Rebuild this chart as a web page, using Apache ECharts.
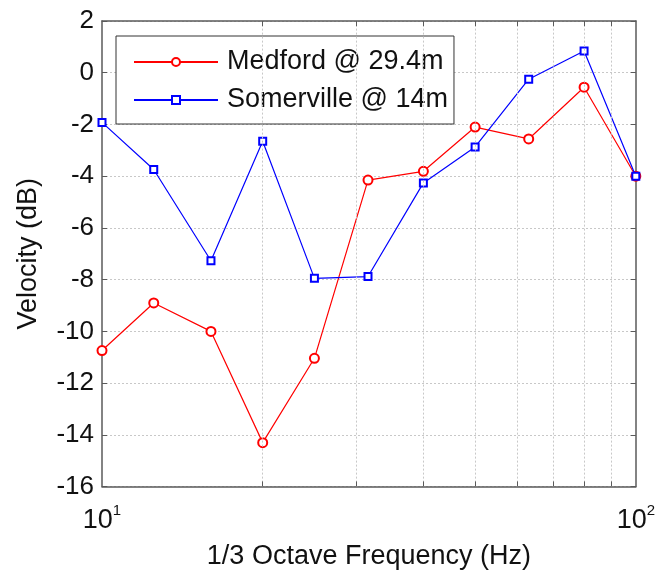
<!DOCTYPE html>
<html>
<head>
<meta charset="utf-8">
<title>Velocity vs 1/3 Octave Frequency</title>
<script src="https://cdn.jsdelivr.net/npm/echarts@6/dist/echarts.min.js"></script>
<style>
  html, body { margin: 0; padding: 0; background: #ffffff; }
  #chart { width: 658px; height: 575px; }
</style>
</head>
<body>
<div id="chart"></div>
<script>
// 1/3 octave band centre frequencies (Hz)
var freqs = [10, 12.5, 16, 20, 25, 31.5, 40, 50, 63, 80, 100];
// Velocity levels (dB) per band
var medford = [-10.74, -8.9, -10.0, -14.3, -11.04, -4.15, -3.81, -2.1, -2.56, -0.56, -4.0];
var somerville = [-1.92, -3.74, -7.27, -2.65, -7.95, -7.88, -4.26, -2.87, -0.25, 0.84, -4.0];
// Decade subdivisions used for the vertical grid and minor ticks
var minorFreqs = [20, 30, 40, 50, 60, 70, 80, 90];
var yMin = -16, yMax = 2, yStep = 2;

var seriesNames = ['Medford @ 29.4m', 'Somerville @ 14m'];

var FONT = 'Liberation Sans, Arial, Helvetica, sans-serif';
var TEXT = '#111111';
var BOX = '#5a5a5a';
var GRID = '#c8c8c8';

function pairs(xs, ys) {
  return xs.map(function (x, i) { return [x, ys[i]]; });
}

// dotted vertical grid lines plus short inward ticks on bottom and top edges
var gridLines = minorFreqs.map(function (f) { return { xAxis: f }; });
var tickLen = 0.2;
var minorTicks = [];
minorFreqs.forEach(function (f) {
  minorTicks.push([{ coord: [f, yMin] }, { coord: [f, yMin + tickLen] }]);
  minorTicks.push([{ coord: [f, yMax] }, { coord: [f, yMax - tickLen] }]);
});

var chart = echarts.init(document.getElementById('chart'), null, { renderer: 'canvas' });

var option = {
  animation: false,
  backgroundColor: '#ffffff',
  textStyle: { fontFamily: FONT, color: TEXT },
  grid: { left: 102, right: 21, top: 21, bottom: 87, containLabel: false },
  legend: {
    orient: 'vertical',
    left: 116,
    top: 36,
    data: seriesNames,
    backgroundColor: '#ffffff',
    borderColor: '#333333',
    borderWidth: 1,
    borderRadius: 0,
    padding: [11, 6, 9, 17],
    itemWidth: 84,
    itemHeight: 10,
    itemGap: 8,
    textStyle: { fontFamily: FONT, fontSize: 27, color: TEXT, lineHeight: 30, padding: [0, 0, 0, 4] }
  },
  xAxis: [{
    type: 'log',
    logBase: 10,
    min: 10,
    max: 100,
    position: 'bottom',
    axisLine: { show: true, onZero: false, lineStyle: { color: BOX, width: 1.5 } },
    axisTick: { show: false },
    splitLine: { show: false },
    axisLabel: {
      margin: 19,
      formatter: function (v) {
        return '{b|10}{s|' + Math.round(Math.log10(v)) + '}';
      },
      rich: {
        b: { fontFamily: FONT, fontSize: 27, color: TEXT, lineHeight: 30 },
        s: { fontFamily: FONT, fontSize: 15, color: TEXT, lineHeight: 30, padding: [0, 0, 20, 0] }
      }
    },
    name: '1/3 Octave Frequency (Hz)',
    nameLocation: 'middle',
    nameGap: 55,
    nameTextStyle: { fontFamily: FONT, fontSize: 27, color: TEXT }
  }, {
    type: 'log',
    logBase: 10,
    min: 10,
    max: 100,
    position: 'top',
    axisLine: { show: true, onZero: false, lineStyle: { color: BOX, width: 1.5 } },
    axisTick: { show: false },
    axisLabel: { show: false },
    splitLine: { show: false }
  }],
  yAxis: [{
    type: 'value',
    min: yMin,
    max: yMax,
    interval: yStep,
    position: 'left',
    axisLine: { show: true, onZero: false, lineStyle: { color: BOX, width: 1.5 } },
    axisTick: { show: true, inside: true, length: 5, lineStyle: { color: BOX, width: 1 } },
    axisLabel: { margin: 8, fontFamily: FONT, fontSize: 26, color: TEXT },
    splitLine: { show: true, lineStyle: { color: GRID, width: 1, type: [2, 2] } },
    name: 'Velocity (dB)',
    nameLocation: 'middle',
    nameGap: 60,
    nameTextStyle: { fontFamily: FONT, fontSize: 27, color: TEXT }
  }, {
    type: 'value',
    min: yMin,
    max: yMax,
    interval: yStep,
    position: 'right',
    axisLine: { show: true, onZero: false, lineStyle: { color: BOX, width: 1.5 } },
    axisTick: { show: true, inside: true, length: 5, lineStyle: { color: BOX, width: 1 } },
    axisLabel: { show: false },
    splitLine: { show: false }
  }],
  series: [{
    name: seriesNames[0],
    type: 'line',
    data: pairs(freqs, medford),
    xAxisIndex: 0,
    yAxisIndex: 0,
    symbol: 'emptyCircle',
    symbolSize: 9,
    showAllSymbol: true,
    lineStyle: { color: '#ff0000', width: 1.2 },
    itemStyle: { color: '#ff0000', borderWidth: 1.2 },
    z: 3,
    markLine: {
      silent: true,
      symbol: ['none', 'none'],
      label: { show: false },
      animation: false,
      lineStyle: { color: GRID, width: 1, type: [2, 2] },
      data: gridLines
    }
  }, {
    name: seriesNames[1],
    type: 'line',
    data: pairs(freqs, somerville),
    xAxisIndex: 0,
    yAxisIndex: 0,
    symbol: 'emptyRect',
    symbolSize: 7,
    showAllSymbol: true,
    lineStyle: { color: '#0000ff', width: 1.2 },
    itemStyle: { color: '#0000ff', borderWidth: 1.2 },
    z: 4,
    markLine: {
      silent: true,
      symbol: ['none', 'none'],
      label: { show: false },
      animation: false,
      lineStyle: { color: BOX, width: 1, type: 'solid' },
      data: minorTicks
    }
  }]
};

chart.setOption(option);
</script>
</body>
</html>
